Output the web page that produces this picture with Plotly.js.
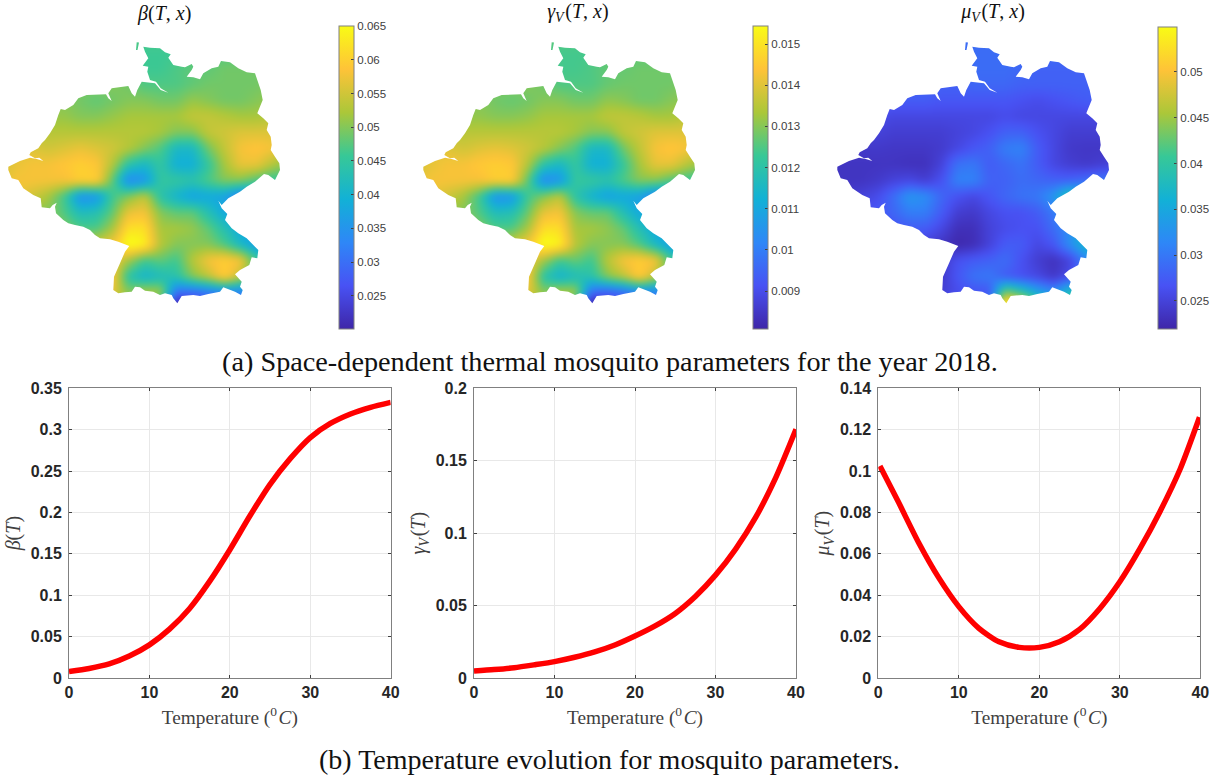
<!DOCTYPE html>
<html><head><meta charset="utf-8">
<script src="https://cdn.plot.ly/plotly-3.0.1.min.js"></script>
<style>html,body{margin:0;padding:0;background:#fff}#chart{width:1226px;height:778px}
.heatmaplayer image{filter:blur(3.5px)}</style>
</head><body><div id="chart"></div>
<script>
// ---------- line panel data ----------
const betaT = [0,2.5,5,7.5,10,12.5,15,17.5,20,22.5,25,27.5,30,32.5,35,37.5,40];
const betaV = [.0077,.0115,.017,.0265,.040,.059,.084,.117,.155,.196,.234,.265,.2905,.3075,.319,.327,.333];
const gammaT = [0,2.5,5,7.5,10,12.5,15,17.5,20,22.5,25,27.5,30,32.5,35,37.5,40];
const gammaV = [.0048,.0058,.0071,.0091,.0113,.0143,.018,.0228,.029,.036,.0446,.0563,.071,.089,.111,.1385,.1717];
const muT = [0.2,2.5,5,7.5,10,12.5,15,17.5,20,22.5,25,27.5,30,32.5,35,37.5,39.9];
const muV = [.1025,.085,.0655,.0485,.0345,.024,.0175,.0148,.0148,.0175,.0235,.0335,.0465,.0625,.0805,.101,.126];

// ---------- map grid ----------
const gridX = [0,16,32,48,64,80,96,112,128,144,160,176,192,208,224,240,256,272,288];
const gridY = [36,52,68,84,100,116,132,148,164,180,196,212,228,244,260,276,292,308];
// beta, in units of 0.001
const betaGrid = [
[47,47,47,47,47,47,47,47,47,47,47,47,47,47,47,47,47,47,47],
[47,47,47,47,47,47,47,47,47,46,46,46,47,47,47,47,47,47,47],
[49,49,49,49,49,49,49,49,48,46,46,47,48,48,49,49,49,49,49],
[50,50,50,50,50,50,50,50,49,47,47,47,48,49,49,49,49,50,50],
[50,50,50,50,50,49,48,49,50,50,49,49,51,50,49,49,50,51,51],
[51,51,51,51,51,50,50,51,52,52,52,52,54,54,53,52,52,53,53],
[53,53,53,53,53,53,53,53,53,53,52,50,50,54,55,56,56,56,55],
[56,56,56,55,56,57,56,55,53,50,47,41,41,49,54,58,59,58,55],
[55,57,58,58,59,60,59,53,44,41,45,39,39,45,52,57,57,53,50],
[56,58,58,58,58,60,60,48,33,35,45,45,44,47,50,50,47,45,45],
[57,57,55,52,46,34,35,46,50,54,44,40,37,38,37,31,35,45,45],
[50,50,50,50,47,42,43,48,57,58,50,48,48,43,38,38,38,38,38],
[52,52,52,52,50,47,47,52,62,62,52,52,51,48,43,38,38,38,38],
[54,54,54,54,54,54,55,58,66,64,53,50,50,50,47,41,36,36,36],
[58,58,58,58,58,58,58,58,52,46,48,46,53,58,60,58,46,42,42],
[58,58,58,58,58,58,58,59,44,40,42,44,50,54,60,54,45,42,42],
[57,57,57,57,57,57,57,57,50,53,52,30,29,31,33,32,32,32,32],
[50,50,50,50,50,50,50,50,50,50,40,15,22,25,28,30,30,30,30]];
// gamma, in units of 0.0001
const gammaGrid = [
[126,126,126,126,126,126,126,126,126,126,126,126,126,126,126,126,126,126,126],
[126,126,126,126,126,126,126,126,126,124,124,124,126,126,126,126,126,126,126],
[128,128,128,128,128,128,128,128,127,124,124,125,127,127,128,128,128,128,128],
[130,130,130,130,130,130,130,130,128,125,125,125,127,128,128,128,128,130,130],
[130,130,130,130,130,128,127,128,130,130,128,128,131,130,128,128,130,131,131],
[131,131,131,131,131,130,130,131,133,133,133,133,136,136,135,133,133,135,135],
[135,135,135,135,135,135,135,135,135,135,133,130,130,136,138,140,140,140,138],
[140,140,140,138,140,141,140,138,135,130,125,115,115,128,136,143,145,143,138],
[138,141,143,143,145,146,145,135,120,115,122,112,112,122,133,141,141,135,130],
[140,143,143,143,143,146,146,127,102,105,122,122,120,125,130,130,125,122,122],
[141,141,138,133,123,104,105,123,130,136,120,113,108,110,108,99,105,122,122],
[130,130,130,130,125,117,118,127,141,143,130,127,127,118,110,110,110,110,110],
[133,133,133,133,130,125,125,133,149,149,133,133,131,127,118,110,110,110,110],
[136,136,136,136,136,136,138,143,156,153,135,130,130,130,125,115,107,107,107],
[143,143,143,143,143,143,143,143,133,123,127,123,135,143,146,143,123,117,117],
[143,143,143,143,143,143,143,145,120,113,117,120,130,136,146,136,122,117,117],
[141,141,141,141,141,141,141,141,130,135,133,96,93,96,102,100,100,100,100],
[130,130,130,130,130,130,130,130,130,130,113,72,84,90,95,96,96,96,96]];
// mu, in units of 0.0001
const muGrid = [
[290,290,290,290,290,290,290,290,290,290,290,290,290,290,290,290,290,290,290],
[290,290,290,290,290,290,290,290,290,290,290,290,290,290,290,290,290,290,290],
[285,285,285,285,285,285,285,285,285,290,290,290,285,280,280,280,280,280,280],
[285,285,285,285,285,285,285,280,280,285,285,285,280,280,280,280,280,280,280],
[275,275,275,275,275,275,275,270,270,270,270,270,265,260,265,270,275,275,275],
[260,260,260,260,255,255,255,255,255,255,255,260,255,255,255,255,255,255,255],
[250,250,250,250,245,245,245,245,250,255,265,280,280,265,255,245,245,245,245],
[240,240,240,240,238,238,238,242,255,270,280,305,310,275,255,240,238,238,240],
[235,235,235,235,235,232,232,250,295,300,275,285,295,275,255,245,240,245,250],
[235,235,235,240,250,255,245,265,310,310,280,280,290,285,280,280,290,300,300],
[240,240,250,260,290,330,320,285,265,255,270,285,295,300,330,400,360,300,300],
[270,270,270,270,285,305,305,275,245,240,255,265,265,275,300,340,340,340,340],
[260,260,260,260,265,275,275,255,230,230,250,260,265,265,290,320,360,360,360],
[250,250,250,250,250,250,245,235,222,228,250,275,275,255,270,320,370,370,370],
[240,240,240,240,240,240,240,240,265,275,280,290,265,245,232,250,310,330,330],
[240,240,240,240,240,240,240,240,270,295,300,275,265,255,238,260,300,300,300],
[245,245,245,245,245,245,245,245,260,265,270,440,400,350,320,390,390,390,390],
[300,300,300,300,300,300,300,300,300,300,300,600,550,450,400,400,400,400,400]];

// national border of the map, in the same map units as gridX / gridY
const borderX = [143.3,150,160,165,170.7,168.3,173.3,181.7,185,191.7,193.3,191.7,186.7,193.3,200,203.3,211.7,218.3,221,230,238.3,246.7,255,257.3,260.7,262.7,257.3,263.3,268.3,266.7,270.7,271.7,270.7,275,279.3,280,275,268.3,264,255,246.7,240,228.3,221.7,218.3,221.7,227.3,225,231.7,238.3,246.7,253.3,258.3,257.3,251.7,249.3,240,235,241.7,240,242.7,241,235,223.3,220,208.3,200,193.3,181.7,177.3,173.3,171.7,165,160,153.3,145,140,135,131.7,125,118.3,113.3,114,120,125,129.3,118.3,110,100,95,90,83.3,75,68.3,63.3,56,55,56.7,52.7,50,41.7,40.7,33.3,23.3,18.3,11.7,8.3,8.3,20,30,36.7,43.3,39.3,35,29.3,30.7,38.3,41.7,45,50,55,58.3,60.7,65,73.3,78.3,86.7,106,108.3,111.7,108.3,111.7,128.3,131.7,135,137.3,141.7,155,160.7,168.3,160.7,156,150,147.3,148.3,142.7,148.3,145];
const borderY = [46.7,47.7,48.3,52.3,54.3,57.7,65,66.7,67.3,64,66.7,70,76.7,77.3,79.3,73.3,68.3,66.7,61,62.3,68.3,72.3,73.3,80,90,100,113.3,118.3,123.3,130,136.7,145,150,156.7,163.3,170,180,175,174,181.7,186.7,191.7,198.3,205,200.7,208.3,214,220,228.3,233.3,238.3,245,250,258.3,257.3,265,270,274.3,281.7,286.7,290,295,291.7,287.3,291.7,294,296,295,296,303.3,298.3,295,293.3,295,291.7,290.7,287.3,286.7,291.7,292.3,293.3,290,276.7,263.3,251.7,246,241.7,239.3,238.3,235,230,226.7,225,223.3,220,213.3,206.7,202.7,205,208.3,207.3,198.3,195,188.3,180,178.3,170,166.7,161,157.7,159,161,157.7,158.3,155,152.3,148.3,143.3,140,133.3,125,115,109,110,105,98.3,95,94.3,98.3,101,93.3,88.3,86,93.3,96.7,90,81.7,83.3,90,92.7,88.3,81.7,80,71.7,66.7,65.7,58.3,51.7];
const islandX = [136.7,139,137.5,136];
const islandY = [42.3,42.5,50,50];

const parula = ['rgb(62,38,168)','rgb(72,82,244)','rgb(46,135,247)','rgb(18,177,214)','rgb(55,200,151)','rgb(171,199,57)','rgb(254,195,56)','rgb(249,251,21)'];
const colorscale = parula.map((c,i)=>[i/(parula.length-1),c]);

const W=1226,H=778;
const fx=p=>p/W, fy=p=>1-p/H;
const sub=(px,py)=>px.map((x,i)=>(i?'L':'M')+x+','+py[i]).join('')+'Z';
const maskPath = 'M0,20L300,20L300,330L0,330Z'+sub(borderX,borderY)+sub(islandX,islandY);
const sansFont='"Liberation Sans", Arial, sans-serif', serifFont='"Liberation Serif", "Times New Roman", serif';

const mapPanels=[
 {grid:betaGrid,unit:.001,left:0,zmin:.0201,zmax:.065,barX:339,barW:15,top:26,bot:329,ticks:[.025,.03,.035,.04,.045,.05,.055,.06,.065],labels:['0.025','0.03','0.035','0.04','0.045','0.05','0.055','0.06','0.065']},
 {grid:gammaGrid,unit:.0001,left:415,zmin:.00808,zmax:.01544,barX:753,barW:15,top:26,bot:329,ticks:[.009,.01,.011,.012,.013,.014,.015],labels:['0.009','0.01','0.011','0.012','0.013','0.014','0.015']},
 {grid:muGrid,unit:.0001,left:829,zmin:.02194,zmax:.0549,barX:1158,barW:19,top:27,bot:329,ticks:[.025,.03,.035,.04,.045,.05],labels:['0.025','0.03','0.035','0.04','0.045','0.05']}
];
const linePanels=[
 {T:betaT,V:betaV,l:69,r:390.7,ymax:.35,vals:[0,.05,.1,.15,.2,.25,.3,.35],txt:['0','0.05','0.1','0.15','0.2','0.25','0.3','0.35'],yt:'<i>β</i>(<i>T</i>)'},
 {T:gammaT,V:gammaV,l:474,r:796,ymax:.2,vals:[0,.05,.1,.15,.2],txt:['0','0.05','0.1','0.15','0.2'],yt:'<i>γ</i><sub><i>V</i></sub>(<i>T</i>)'},
 {T:muT,V:muV,l:878.3,r:1200.3,ymax:.14,vals:[0,.02,.04,.06,.08,.1,.12,.14],txt:['0','0.02','0.04','0.06','0.08','0.1','0.12','0.14'],yt:'<i>μ</i><sub><i>V</i></sub>(<i>T</i>)'}
];
const data=[],layout={width:W,height:H,margin:{l:0,r:0,t:0,b:0},paper_bgcolor:'#fff',plot_bgcolor:'#fff',showlegend:false,shapes:[],annotations:[]};

mapPanels.forEach((p,i)=>{
  const n=i+1,xa='xaxis'+(n>1?n:''),ya='yaxis'+(n>1?n:''),xr='x'+(n>1?n:''),yr='y'+(n>1?n:'');
  data.push({type:'heatmap',x:gridX,y:gridY,z:p.grid.map(r=>r.map(v=>v*p.unit)),xaxis:xr,yaxis:yr,zsmooth:'best',colorscale,zmin:p.zmin,zmax:p.zmax,hoverinfo:'skip',
    colorbar:{x:fx(p.barX),xanchor:'left',xpad:0,ypad:0,y:fy(p.top),yanchor:'top',lenmode:'fraction',len:(p.bot-p.top)/H,thicknessmode:'pixels',thickness:p.barW,outlinecolor:'#808080',outlinewidth:1,ticks:'inside',ticklen:3,tickcolor:'#404040',tickwidth:1,tickmode:'array',tickvals:p.ticks,ticktext:p.labels,tickfont:{family:sansFont,size:11.5,color:'#404040'}}});
  layout[xa]={domain:[fx(p.left),fx(p.left+300)],range:[0,300],visible:false,fixedrange:true};
  layout[ya]={domain:[fy(330),fy(20)],range:[330,20],visible:false,fixedrange:true};
  layout.shapes.push({type:'path',xref:xr,yref:yr,path:maskPath,fillcolor:'#fff',fillrule:'evenodd',line:{width:0},layer:'above'});
});
linePanels.forEach((p,i)=>{
  const n=i+4,xr='x'+n,yr='y'+n;
  data.push({type:'scatter',mode:'lines',x:p.T,y:p.V,xaxis:xr,yaxis:yr,line:{color:'#ff0000',width:5.5,shape:'spline',smoothing:0.7},hoverinfo:'skip'});
  const common={showline:true,linecolor:'#808080',linewidth:1,mirror:'ticks',ticks:'inside',ticklen:3,tickcolor:'#404040',gridcolor:'#e8e8e8',gridwidth:1,zeroline:false,fixedrange:true,tickfont:{family:sansFont,size:16,color:'#262626',weight:'bold'}};
  layout['xaxis'+n]={...common,domain:[fx(p.l),fx(p.r)],range:[0,40],anchor:yr,tickmode:'array',tickvals:[0,10,20,30,40],ticktext:['0','10','20','30','40'],
    title:{text:'Temperature (<sup>0</sup><i>C</i>)',font:{family:serifFont,size:19.3,color:'#404040'},standoff:10}};
  layout['yaxis'+n]={...common,domain:[fy(678),fy(388.3)],range:[0,p.ymax],anchor:xr,tickmode:'array',tickvals:p.vals,ticktext:p.txt,ticklabelstandoff:3,
    title:{text:p.yt,font:{family:serifFont,size:20,color:'#404040'},standoff:4}};
});
const ann=(text,x,y,size,color)=>layout.annotations.push({text,x:fx(x),y:fy(y),xref:'paper',yref:'paper',xanchor:'center',yanchor:'middle',showarrow:false,font:{family:serifFont,size,color:color||'#111'}});
ann('<i>β</i>(<i>T</i>, <i>x</i>)',164,14,20);
ann('<i>γ</i><sub><i>V</i></sub>(<i>T</i>, <i>x</i>)',578,12,20);
ann('<i>μ</i><sub><i>V</i></sub>(<i>T</i>, <i>x</i>)',992.5,12,20);
ann('(a) Space-dependent thermal mosquito parameters for the year 2018.',609.5,361,28.25);
ann('(b) Temperature evolution for mosquito parameters.',609.5,759,28);

// Plotly's baseline-shift spacers around <sub>/<sup> are empty or zero-width; give them a hair of width.
function widenSpacers(){
  document.querySelectorAll('svg text tspan').forEach(t=>{
    if(!t.children.length && t.textContent.replace(/\u200b/g,'')==='') t.textContent='\u200a';
  });
}
Plotly.newPlot('chart',data,layout,{displayModeBar:false,staticPlot:true}).then(widenSpacers);
</script></body></html>
